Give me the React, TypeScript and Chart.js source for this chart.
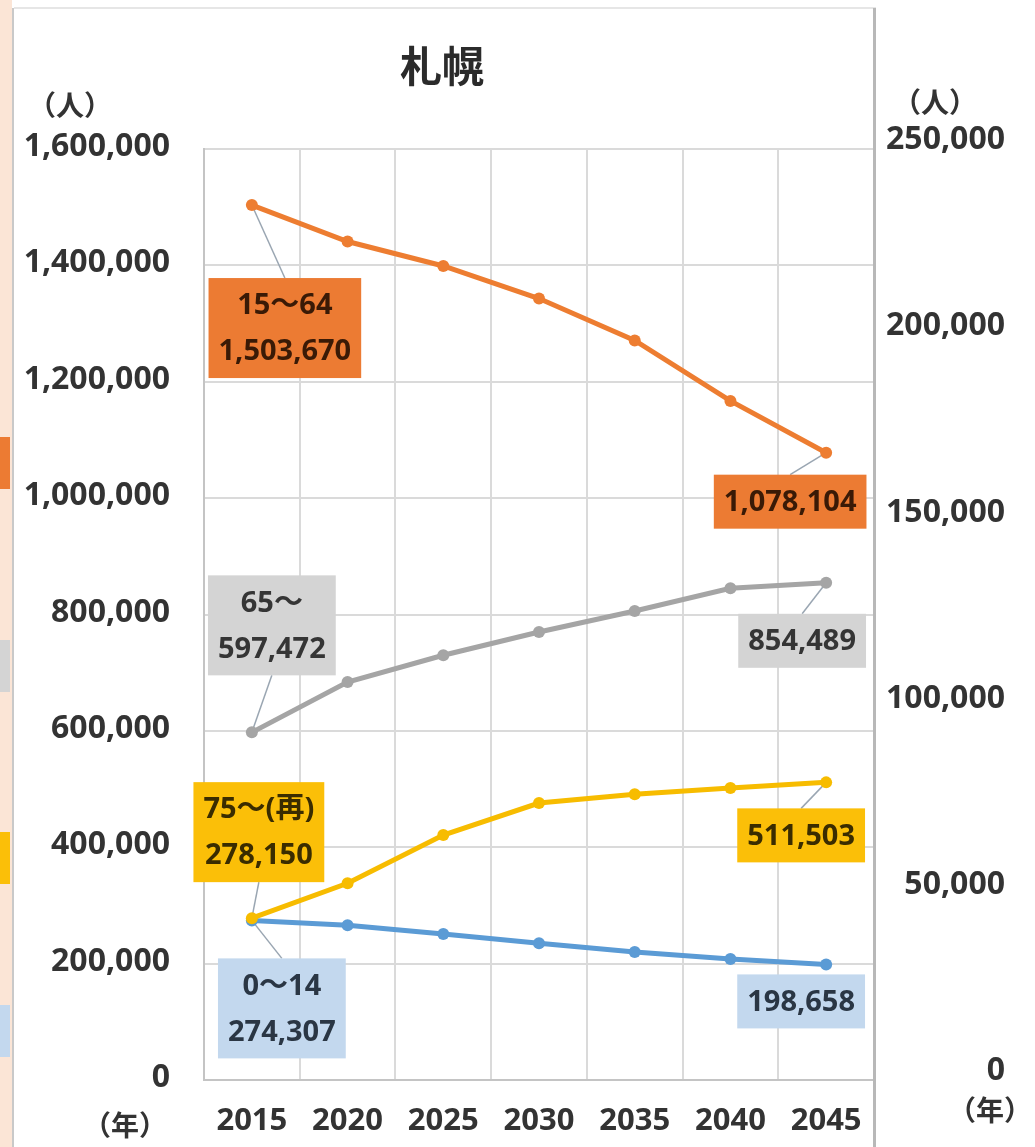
import React, { useEffect, useRef } from 'react';
import { Chart, registerables } from 'chart.js';

Chart.register(...registerables);

// ---------- data ----------
const years = ['2015', '2020', '2025', '2030', '2035', '2040', '2045'];
const age15to64 = [1503670, 1441000, 1399000, 1343000, 1271000, 1167000, 1078104];
const age65plus = [597472, 684000, 730000, 770000, 806000, 845000, 854489];
const age75plus = [278150, 338000, 421000, 476000, 491000, 502000, 511503];
const age0to14 = [274307, 266000, 251000, 235000, 220000, 208000, 198658];
const seriesNames = ['15～64', '65～', '75～(再)', '0～14'];
const leftAxis = { min: 0, max: 1600000, step: 200000 };
const rightAxis = { min: 0, max: 250000, step: 50000 };
const titleText = '札幌';
const unitPeople = '（人）';
const unitYear = '（年）';

// ---------- styles ----------
const FONT = '"Noto Sans", "Noto Sans CJK JP", sans-serif';
const CJK = '"Noto Sans CJK JP", "Noto Sans", sans-serif';
const TEXT = '#333333';
const colors = {
  orange: '#ED7D31',
  gray: '#A5A5A5',
  yellow: '#F7BC00',
  blue: '#5B9BD5',
};
const boxColors = {
  orange: { bg: '#EC7B33', fg: '#3a1a06' },
  gray: { bg: '#D4D4D4', fg: '#353535' },
  yellow: { bg: '#FBBF08', fg: '#3a2c00' },
  blue: { bg: '#C3D8EE', fg: '#2a3644' },
};

const fmt = (v: number) => v.toLocaleString('en-US');

// dataset index order: 0 orange, 1 gray, 2 yellow, 3 blue
type LabelCfg = { ds: number; idx: number; lines: string[]; dx: number; dy: number; style: keyof typeof boxColors; leader: boolean };
const labelCfgs: LabelCfg[] = [
  { ds: 0, idx: 0, lines: [seriesNames[0], fmt(age15to64[0])], dx: 33, dy: 123, style: 'orange', leader: true },
  { ds: 0, idx: 6, lines: [fmt(age15to64[6])], dx: -36, dy: 49, style: 'orange', leader: true },
  { ds: 1, idx: 0, lines: [seriesNames[1], fmt(age65plus[0])], dx: 20, dy: -107, style: 'gray', leader: true },
  { ds: 1, idx: 6, lines: [fmt(age65plus[6])], dx: -24, dy: 58, style: 'gray', leader: true },
  { ds: 2, idx: 0, lines: [seriesNames[2], fmt(age75plus[0])], dx: 7, dy: -86, style: 'yellow', leader: true },
  { ds: 2, idx: 6, lines: [fmt(age75plus[6])], dx: -25, dy: 53, style: 'yellow', leader: true },
  { ds: 3, idx: 0, lines: [seriesNames[3], fmt(age0to14[0])], dx: 30, dy: 88, style: 'blue', leader: true },
  { ds: 3, idx: 6, lines: [fmt(age0to14[6])], dx: -25, dy: 37, style: 'blue', leader: false },
];

const LABEL_FONT = `bold 29px ${FONT}`;
const LINE_H = 46;
const PAD_X = 10;
const PAD_Y = 4;

function boxGeom(ctx: CanvasRenderingContext2D, chart: any, l: LabelCfg) {
  const pt = chart.getDatasetMeta(l.ds).data[l.idx];
  ctx.font = LABEL_FONT;
  const w = Math.max(...l.lines.map((s) => ctx.measureText(s).width)) + PAD_X * 2;
  const h = l.lines.length * LINE_H + PAD_Y * 2;
  const cx = pt.x + l.dx;
  const cy = pt.y + l.dy;
  return { pt, w, h, cx, cy };
}

const decorPlugin = {
  id: 'decor',
  beforeDraw(chart: any) {
    const { ctx, width, height } = chart;
    ctx.save();
    ctx.fillStyle = '#ffffff';
    ctx.fillRect(0, 0, width, height);
    // adjacent panel strip on the left
    ctx.fillStyle = '#FBE5D6';
    ctx.fillRect(0, 0, 12, height);
    const frag = [
      { y: 437, c: '#EC7B33' },
      { y: 640, c: '#D4D4D4' },
      { y: 832, c: '#FBBF08' },
      { y: 1005, c: '#C3D8EE' },
    ];
    frag.forEach((f) => {
      ctx.fillStyle = f.c;
      ctx.fillRect(0, f.y, 10, 52);
    });
    ctx.fillStyle = '#c9c9c9';
    ctx.fillRect(12, 8, 2, height - 8);
    // top thin line
    ctx.fillStyle = '#e6e6e6';
    ctx.fillRect(14, 7, 862, 2);
    ctx.restore();
  },
  beforeDatasetsDraw(chart: any) {
    const ctx = chart.ctx;
    ctx.save();
    ctx.strokeStyle = '#9aa6b2';
    ctx.lineWidth = 1.5;
    labelCfgs.forEach((l) => {
      if (!l.leader) return;
      const g = boxGeom(ctx, chart, l);
      const edgeY = g.cy > g.pt.y ? g.cy - g.h / 2 : g.cy + g.h / 2;
      ctx.beginPath();
      ctx.moveTo(g.pt.x, g.pt.y);
      ctx.lineTo(g.cx, edgeY);
      ctx.stroke();
    });
    ctx.restore();
  },
  afterDatasetsDraw(chart: any) {
    const ctx = chart.ctx;
    ctx.save();
    labelCfgs.forEach((l) => {
      const g = boxGeom(ctx, chart, l);
      const st = boxColors[l.style];
      ctx.fillStyle = st.bg;
      ctx.fillRect(g.cx - g.w / 2, g.cy - g.h / 2, g.w, g.h);
      ctx.fillStyle = st.fg;
      ctx.font = LABEL_FONT;
      ctx.textAlign = 'center';
      ctx.textBaseline = 'middle';
      l.lines.forEach((s, i) => {
        const y = g.cy - g.h / 2 + PAD_Y + LINE_H * i + LINE_H / 2;
        ctx.fillText(s, g.cx, y + 1);
      });
    });
    ctx.restore();
  },
  afterDraw(chart: any) {
    const { ctx, chartArea, height } = chart;
    ctx.save();
    // panel border on the right
    ctx.fillStyle = '#b8b8b8';
    ctx.fillRect(chartArea.right - 1, 8, 3, height - 8);
    // title
    ctx.fillStyle = '#2b2b2b';
    ctx.font = `bold 42px ${CJK}`;
    ctx.textAlign = 'center';
    ctx.textBaseline = 'middle';
    ctx.fillText(titleText, chartArea.left + 238, chartArea.top - 83);
    // units
    ctx.fillStyle = TEXT;
    ctx.font = `bold 28px ${CJK}`;
    ctx.fillText(unitPeople, 70, chartArea.top - 44);
    ctx.fillText(unitPeople, chartArea.right + 61, chartArea.top - 47);
    ctx.fillText(unitYear, 125, chartArea.bottom + 45);
    ctx.fillText(unitYear, chartArea.right + 116, chartArea.bottom + 30);
    ctx.restore();
  },
};

export default function App() {
  const ref = useRef<HTMLCanvasElement | null>(null);
  useEffect(() => {
    if (!ref.current) return;
    const mk = (label: string, data: number[], color: string) => ({
      label,
      data,
      borderColor: color,
      backgroundColor: color,
      borderWidth: 5,
      pointRadius: 6,
      pointBorderWidth: 0,
      pointBackgroundColor: color,
      tension: 0,
      yAxisID: 'y',
    });
    const tickFont = { family: FONT, size: 32, weight: 'bold' };
    const chart = new Chart(ref.current, {
      type: 'line',
      data: {
        labels: years,
        datasets: [
          mk(seriesNames[0], age15to64, colors.orange),
          mk(seriesNames[1], age65plus, colors.gray),
          mk(seriesNames[2], age75plus, colors.yellow),
          mk(seriesNames[3], age0to14, colors.blue),
        ],
      },
      options: {
        responsive: false,
        animation: false,
        devicePixelRatio: 1,
        layout: { padding: { top: 149, left: 0, right: 30, bottom: 0 } },
        plugins: {
          legend: { display: false },
          title: { display: false },
          tooltip: { enabled: false },
        },
        scales: {
          x: {
            type: 'category',
            offset: true,
            grid: { offset: true, color: '#dadada', lineWidth: 2, drawTicks: false },
            border: { color: '#c4c4c4', width: 2 },
            ticks: { color: TEXT, font: { family: FONT, size: 31, weight: 'bold' }, padding: 23, maxRotation: 0 },
            afterFit: (s: any) => { s.height = 67; },
          },
          y: {
            position: 'left',
            min: leftAxis.min,
            max: leftAxis.max,
            grid: { color: '#dadada', lineWidth: 2, drawTicks: false },
            border: { color: '#c4c4c4', width: 2 },
            ticks: {
              stepSize: leftAxis.step,
              color: TEXT,
              font: tickFont,
              padding: 34,
              labelOffset: -2,
              callback: (v: any) => fmt(Number(v)),
            },
            afterFit: (s: any) => { s.width = 204; },
          },
          y2: {
            position: 'right',
            min: rightAxis.min,
            max: rightAxis.max,
            grid: { display: false, drawTicks: false },
            border: { display: false },
            ticks: {
              stepSize: rightAxis.step,
              color: TEXT,
              font: tickFont,
              padding: 8,
              crossAlign: 'far',
              labelOffset: -9,
              callback: (v: any) => fmt(Number(v)),
            },
            afterFit: (s: any) => { s.width = 131; },
          },
        },
      },
      plugins: [decorPlugin],
    } as any);
    return () => chart.destroy();
  }, []);
  return (
    <div style={{ position: 'absolute', left: 0, top: 0, width: 1035, height: 1147, overflow: 'hidden' }}>
      <canvas ref={ref} width={1035} height={1147} style={{ display: 'block' }} />
    </div>
  );
}
